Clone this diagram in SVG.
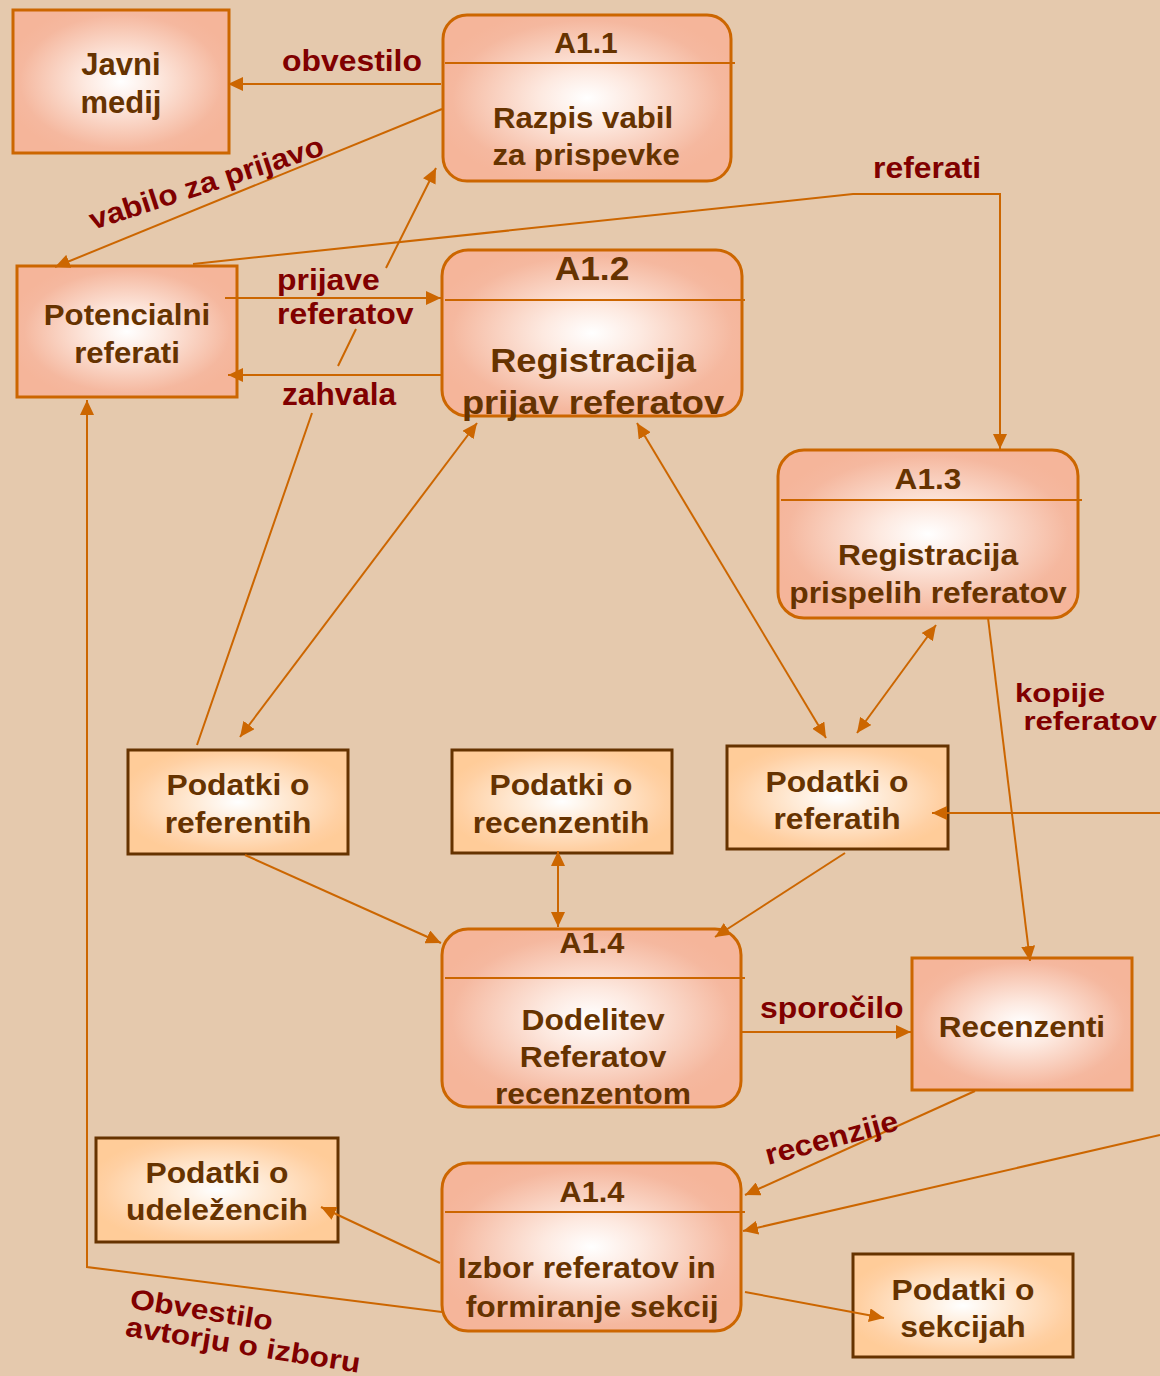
<svg xmlns="http://www.w3.org/2000/svg" width="1160" height="1376" viewBox="0 0 1160 1376">
  <defs>
    <radialGradient id="gEnt" cx="0.5" cy="0.5" r="0.55">
      <stop offset="0" stop-color="#FFFFFF"/>
      <stop offset="0.3" stop-color="#FDE9E0"/>
      <stop offset="0.85" stop-color="#F5B89F"/>
      <stop offset="1" stop-color="#F5B59A"/>
    </radialGradient>
    <radialGradient id="gStore" cx="0.5" cy="0.5" r="0.55">
      <stop offset="0" stop-color="#FFFFFF"/>
      <stop offset="0.3" stop-color="#FFEEDD"/>
      <stop offset="0.85" stop-color="#FFD0A3"/>
      <stop offset="1" stop-color="#FFCC99"/>
    </radialGradient>
    <marker id="ah" viewBox="0 0 15 14" refX="15" refY="7" markerWidth="15" markerHeight="14" markerUnits="userSpaceOnUse" orient="auto-start-reverse">
      <path d="M0,0L15,7L0,14z" fill="#CC6600"/>
    </marker>
    <style>
      .ent { fill: url(#gEnt); stroke: #CC6600; stroke-width: 3; }
      .proc { fill: url(#gEnt); stroke: #CC6600; stroke-width: 3; }
      .store { fill: url(#gStore); stroke: #663300; stroke-width: 3; }
      .div { stroke: #CC6600; stroke-width: 2; fill: none; }
      .n { font-family: "Liberation Sans", Arial, sans-serif; font-weight: bold; font-size: 30px; fill: #663300; text-anchor: middle; }
      .l { font-family: "Liberation Sans", Arial, sans-serif; font-weight: bold; font-size: 29px; fill: #800000; }
      .c { fill: none; stroke: #CC6600; stroke-width: 2; }
      .e { marker-end: url(#ah); }
      .b { marker-start: url(#ah); marker-end: url(#ah); }
    </style>
  </defs>

  <rect width="1160" height="1376" fill="#E5C9AD"/>

  <!-- external entities -->
  <g id="javni-medij">
    <rect class="ent" x="13" y="10" width="216" height="143"/>
    <text class="n" font-size="31" transform="translate(121,0)"><tspan x="0" y="75" style="font-size:31px">Javni</tspan><tspan x="0" y="113" style="font-size:31px">medij</tspan></text>
  </g>
  <g id="potencialni-referati">
    <rect class="ent" x="17" y="266" width="220" height="131"/>
    <text class="n" transform="translate(127,0) scale(1.04,1)"><tspan x="0" y="325">Potencialni</tspan><tspan x="0" y="363">referati</tspan></text>
  </g>
  <g id="recenzenti">
    <rect class="ent" x="912" y="958" width="220" height="132"/>
    <text class="n" transform="translate(1022,0) scale(1.05,1)"><tspan x="0" y="1037">Recenzenti</tspan></text>
  </g>

  <!-- processes -->
  <g id="a11">
    <rect class="proc" x="443" y="15" width="288" height="166" rx="24"/>
    <path class="div" d="M445,63H735"/>
    <text class="n" transform="translate(586,0)"><tspan x="0" y="53">A1.1</tspan></text>
    <text class="n" transform="translate(583,0) scale(1.04,1)"><tspan x="0" y="128">Razpis vabil</tspan><tspan x="3" y="165">za prispevke</tspan></text>
  </g>
  <g id="a12">
    <rect class="proc" x="442" y="250" width="300" height="166" rx="26"/>
    <path class="div" d="M445,300H745"/>
    <text class="n" transform="translate(592,0) scale(1.04,1)" style="font-size:34px"><tspan x="0" y="280">A1.2</tspan></text>
    <text class="n" transform="translate(593,0) scale(1.1,1)" style="font-size:33px"><tspan x="0" y="372">Registracija</tspan><tspan x="0" y="414">prijav referatov</tspan></text>
  </g>
  <g id="a13">
    <rect class="proc" x="778" y="450" width="300" height="168" rx="26"/>
    <path class="div" d="M781,500H1082"/>
    <text class="n" transform="translate(928,0) scale(1.09,1)" style="font-size:29px"><tspan x="0" y="489">A1.3</tspan></text>
    <text class="n" transform="translate(928,0) scale(1.06,1)"><tspan x="0" y="565">Registracija</tspan><tspan x="0" y="603">prispelih referatov</tspan></text>
  </g>
  <g id="a14-dodelitev">
    <rect class="proc" x="442" y="929" width="299" height="178" rx="26"/>
    <path class="div" d="M445,978H745"/>
    <text class="n" transform="translate(592,0) scale(1.06,1)" style="font-size:29px"><tspan x="0" y="953">A1.4</tspan></text>
    <text class="n" transform="translate(593,0) scale(1.06,1)"><tspan x="0" y="1030">Dodelitev</tspan><tspan x="0" y="1067">Referatov</tspan><tspan x="0" y="1104">recenzentom</tspan></text>
  </g>
  <g id="a14-izbor">
    <rect class="proc" x="442" y="1163" width="299" height="168" rx="26"/>
    <path class="div" d="M445,1212H745"/>
    <text class="n" transform="translate(592,0) scale(1.06,1)" style="font-size:29px"><tspan x="0" y="1202">A1.4</tspan></text>
    <text class="n" transform="translate(590,0) scale(1.06,1)"><tspan x="-3" y="1278">Izbor referatov in</tspan><tspan x="2" y="1317">formiranje sekcij</tspan></text>
  </g>

  <!-- data stores -->
  <g id="podatki-referenti">
    <rect class="store" x="128" y="750" width="220" height="104"/>
    <text class="n" transform="translate(238,0) scale(1.06,1)"><tspan x="0" y="795">Podatki o</tspan><tspan x="0" y="833">referentih</tspan></text>
  </g>
  <g id="podatki-recenzenti">
    <rect class="store" x="452" y="750" width="220" height="103"/>
    <text class="n" transform="translate(561,0) scale(1.06,1)"><tspan x="0" y="795">Podatki o</tspan><tspan x="0" y="833">recenzentih</tspan></text>
  </g>
  <g id="podatki-referati">
    <rect class="store" x="727" y="746" width="221" height="103"/>
    <text class="n" transform="translate(837,0) scale(1.06,1)"><tspan x="0" y="792">Podatki o</tspan><tspan x="0" y="829">referatih</tspan></text>
  </g>
  <g id="podatki-udelezenci">
    <rect class="store" x="96" y="1138" width="242" height="104"/>
    <text class="n" transform="translate(217,0) scale(1.06,1)"><tspan x="0" y="1183">Podatki o</tspan><tspan x="0" y="1220">udeležencih</tspan></text>
  </g>
  <g id="podatki-sekcije">
    <rect class="store" x="853" y="1254" width="220" height="103"/>
    <text class="n" transform="translate(963,0) scale(1.06,1)"><tspan x="0" y="1300">Podatki o</tspan><tspan x="0" y="1337">sekcijah</tspan></text>
  </g>

  <!-- data flows -->
  <g id="connectors">
    <path class="c e" d="M441,84H228"/>
    <path class="c e" d="M442,109L55,267"/>
    <path class="c e" d="M193,264L853,194H1000V449"/>
    <path class="c e" d="M225,298H441"/>
    <path class="c e" d="M441,375H228"/>
    <path class="c e" d="M197,745L312,413M338,366L356,329M386,268L436,168"/>
    <path class="c b" d="M477,423L240,737"/>
    <path class="c b" d="M637,423L826,738"/>
    <path class="c b" d="M936,625L857,733"/>
    <path class="c e" d="M1160,813H932"/>
    <path class="c e" d="M988,618L1030,961"/>
    <path class="c e" d="M245,855L441,943"/>
    <path class="c b" d="M558,851V927"/>
    <path class="c e" d="M845,853L715,937"/>
    <path class="c e" d="M741,1032H911"/>
    <path class="c e" d="M975,1091L745,1195"/>
    <path class="c e" d="M1160,1135Q945,1185 743,1231"/>
    <path class="c e" d="M440,1263L321,1207"/>
    <path class="c e" d="M442,1312L87,1267V400"/>
    <path class="c e" d="M745,1292L884,1318"/>
  </g>

  <!-- flow labels -->
  <g id="labels">
    <text class="l" transform="translate(282,71) scale(1.1,1)">obvestilo</text>
    <text class="l" transform="translate(93,230) rotate(-18) scale(1.085,1)">vabilo za prijavo</text>
    <text class="l" transform="translate(873,178) scale(1.1,1)">referati</text>
    <text class="l" transform="translate(277,0) scale(1.1,1)"><tspan x="0" y="290">prijave</tspan><tspan x="0" y="324">referatov</tspan></text>
    <text class="l" transform="translate(282,405) scale(1.02,1)" style="font-size:31px">zahvala</text>
    <text class="l" transform="translate(1015,702) scale(1.2,1)" style="font-size:26px"><tspan x="0" y="0">kopije</tspan><tspan x="7" y="28">referatov</tspan></text>
    <text class="l" transform="translate(760,1018) scale(1.1,1)">sporočilo</text>
    <text class="l" transform="translate(768,1165) rotate(-15) scale(1.1,1)">recenzije</text>
    <text class="l" transform="translate(129,1308) rotate(9) scale(1.13,1)" style="font-size:28px"><tspan x="0" y="0">Obvestilo</tspan><tspan x="0" y="28">avtorju o izboru</tspan></text>
  </g>
</svg>
